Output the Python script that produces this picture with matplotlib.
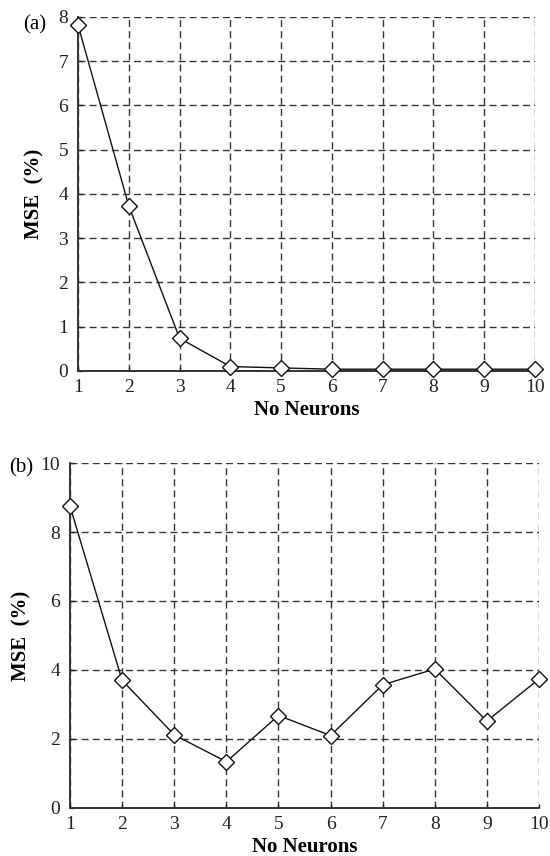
import matplotlib
matplotlib.use("Agg")
import matplotlib.pyplot as plt

plt.rcParams['font.family'] = ['Liberation Serif', 'DejaVu Serif']

neurons = [1, 2, 3, 4, 5, 6, 7, 8, 9, 10]
mse_a = [7.82, 3.73, 0.74, 0.10, 0.07, 0.04, 0.04, 0.04, 0.04, 0.04]
mse_b = [8.75, 3.70, 2.12, 1.34, 2.68, 2.10, 3.57, 4.03, 2.52, 3.74]
yticks_a = [0, 1, 2, 3, 4, 5, 6, 7, 8]
yticks_b = [0, 2, 4, 6, 8, 10]

W, H = 550, 856
fig = plt.figure(figsize=(W / 100, H / 100), dpi=100)
ax_a = fig.add_axes([0.1418, 0.5666, 0.831, 0.4136])
ax_b = fig.add_axes([0.1273, 0.0561, 0.8527, 0.4030])


def style_axes(ax, yticks, ymax, ylab_x):
    ax.set_xlim(1, 10)
    ax.set_ylim(0, ymax)
    ax.set_xticks(neurons)
    ax.set_yticks(yticks)
    ax.grid(True, linestyle=(0, (5, 3)), color='#333333', linewidth=1.0)
    ax.set_axisbelow(True)
    for side in ['top', 'right']:
        ax.spines[side].set_visible(False)
    for side in ['left', 'bottom']:
        ax.spines[side].set_linewidth(1.4)
        ax.spines[side].set_color('#333333')
    ax.tick_params(direction='in', length=3, width=1.0, labelsize=14,
                   colors='#222222')
    ax.tick_params(axis='y', pad=7)
    ax.tick_params(axis='x', pad=6)
    ax.set_xlabel('No Neurons', fontsize=15, fontweight='bold', labelpad=2.5)
    ax.set_ylabel('MSE  (%)', fontsize=15, fontweight='bold')
    ax.yaxis.set_label_coords(ylab_x, 0.5)


style_axes(ax_a, yticks_a, 8, -0.074)
style_axes(ax_b, yticks_b, 10, -0.083)

fig.text(35 / W, 1 - 25 / H, '(a)', fontsize=15, ha='center', va='center')
fig.text(21 / W, 1 - 468 / H, '(b)', fontsize=15, ha='center', va='center')

for ax, vals in [(ax_a, mse_a), (ax_b, mse_b)]:
    ax.plot(neurons, vals, color='#111111', linewidth=1.0, marker='D',
            markersize=8, markerfacecolor='white', markeredgecolor='#111111',
            markeredgewidth=1.0, clip_on=False, zorder=5)

fig.savefig('out.png', dpi=100)
